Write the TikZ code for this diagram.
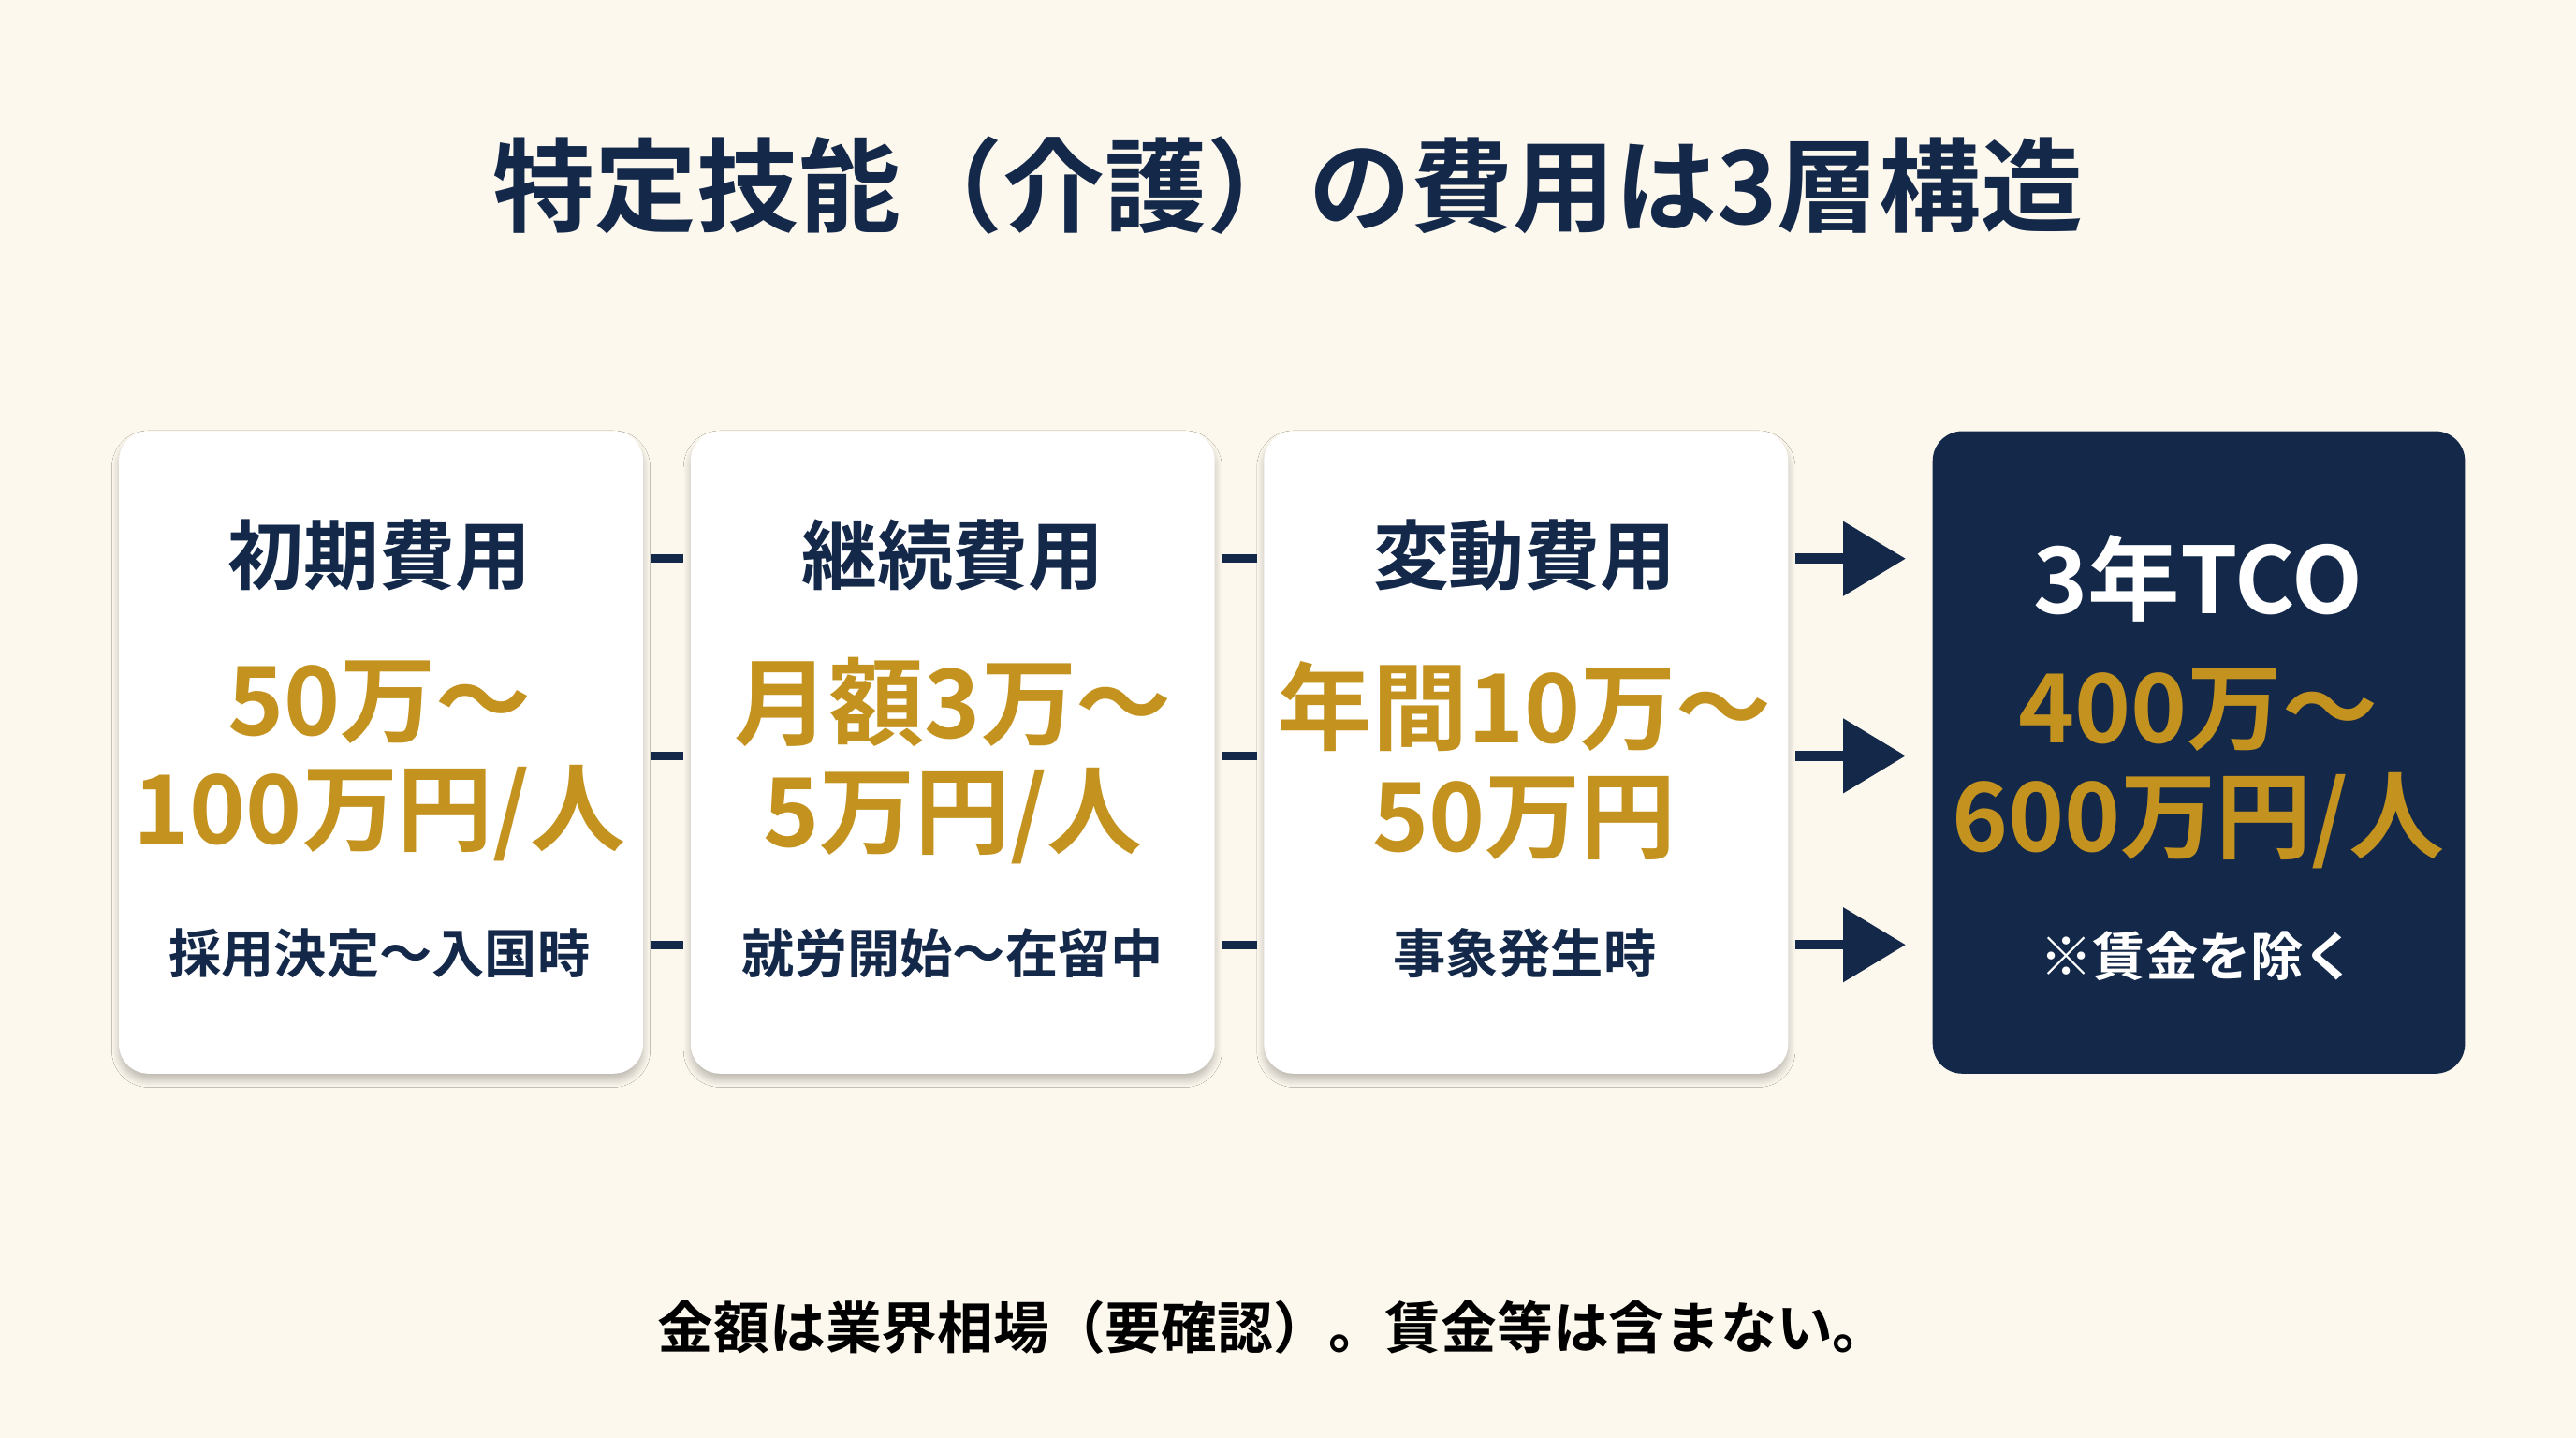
\documentclass[tikz,border=0pt]{standalone}
\usepackage{fontspec}
\setmainfont{Noto Sans CJK JP}[BoldFont={* Bold}]
\usetikzlibrary{arrows.meta,shadows.blur}
\definecolor{bg}{HTML}{FDF8EE}
\definecolor{navy}{HTML}{14294A}
\definecolor{gold}{HTML}{C4921E}
\begin{document}
\begin{tikzpicture}[x=0.01755cm,y=-0.01755cm,
  box/.style={rounded corners=9pt,minimum width=319*0.01755cm,minimum height=391*0.01755cm,anchor=north west,inner sep=0pt},
  wbox/.style={box,fill=white,blur shadow={shadow blur steps=8,shadow xshift=0pt,shadow yshift=-2pt,shadow opacity=25}},
  head/.style={font=\bfseries\fontsize{23pt}{26pt}\selectfont,text=navy},
  amt/.style={font=\bfseries\fontsize{29pt}{33pt}\selectfont,text=gold,align=center},
  sub/.style={font=\bfseries\fontsize{16pt}{18pt}\selectfont,text=navy},
  link/.style={line width=2.6pt,draw=navy,shorten <=2pt,shorten >=2pt},
  arr/.style={line width=3pt,draw=navy,-{Triangle[length=19pt,width=22pt]}}]
\fill[bg] (0,0) rectangle (1568,875);
\useasboundingbox (0,0) rectangle (1568,875);
\node[font=\bfseries\fontsize{31pt}{34pt}\selectfont,text=navy] (title) at (784,113) {特定技能（介護）の費用は3層構造};
\node[wbox] (b1) at (72,262) {};
\node[wbox] (b2) at (420,262) {};
\node[wbox] (b3) at (769,262) {};
\node[box,fill=navy,minimum width=324*0.01755cm] (b4) at (1176,262) {};
\node[head] (h1) at (231,338) {初期費用};
\node[head] (h2) at (580,338) {継続費用};
\node[head] (h3) at (928,338) {変動費用};
\node[amt] (a1) at (231,463) {50万～\\100万円/人};
\node[amt] (a2) at (580,463) {月額3万～\\5万円/人};
\node[amt] (a3) at (928,463) {年間10万～\\50万円};
\node[sub] (s1) at (231,580) {採用決定～入国時};
\node[sub] (s2) at (580,580) {就労開始～在留中};
\node[sub] (s3) at (928,580) {事象発生時};
\node[font=\bfseries\fontsize{28pt}{30pt}\selectfont,text=white] (t4) at (1338,352) {3年TCO};
\node[amt] (a4) at (1338,468) {400万～\\600万円/人};
\node[sub,text=white] (s4) at (1338,582) {※賃金を除く};
\coordinate (r1) at (0,340); \coordinate (r2) at (0,460); \coordinate (r3) at (0,575);
\foreach \r in {r1,r2,r3}{
  \draw[link] (b1.east |- \r) -- (b2.west |- \r);
  \draw[link] (b2.east |- \r) -- (b3.west |- \r);
  \draw[arr] ([xshift=2pt]b3.east |- \r) -- ([xshift=-8pt]b4.west |- \r);
}
\node[font=\bfseries\fontsize{17pt}{19pt}\selectfont,text=black] (foot) at (775,808) {金額は業界相場（要確認）。賃金等は含まない。};
\end{tikzpicture}
\end{document}
